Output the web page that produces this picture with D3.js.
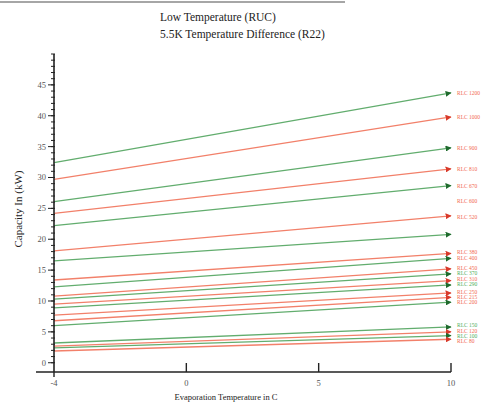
<!DOCTYPE html>
<html>
<head>
<meta charset="utf-8">
<script src="https://cdn.jsdelivr.net/npm/d3@7"></script>
<style>
  html, body { margin: 0; padding: 0; background: #fff; }
  svg { display: block; font-family: "Liberation Serif", "DejaVu Serif", serif; }
</style>
</head>
<body>
<svg id="chart" width="486" height="402"></svg>
<script>
// ── Data ─────────────────────────────────────────────────────────────────────

const xCats   = ["-4", "0", "5", "10"];
const yTicks  = [0, 5, 10, 15, 20, 25, 30, 35, 40, 45];

// capacity at -4 C and at 10 C for every line, top to bottom
const capStart = [32.4, 29.7, 26.1, 24.2, 22.2, 18.1, 16.5, 13.4, 12.3, 10.8, 10.3, 9.5, 8.9, 7.7, 6.8, 6.0, 3.2, 2.7, 2.4, 1.9];
const capEnd   = [43.7, 39.8, 34.8, 31.4, 28.7, 23.8, 20.8, 17.7, 16.9, 15.2, 14.4, 13.3, 12.6, 11.3, 10.6, 9.8, 5.8, 5.0, 4.4, 3.8];
const lineKind = ["g", "r", "g", "r", "g", "r", "g", "r", "g", "r", "g", "r", "g", "r", "r", "g", "g", "r", "g", "r"];

const labelText  = ["RLC 1200", "RLC 1000", "RLC 900", "RLC 810", "RLC 670", "RLC 600", "RLC 520",
                    "RLC 380", "RLC 400", "RLC 450", "RLC 370", "RLC 310", "RLC 290", "RLC 250",
                    "RLC 215", "RLC 200", "RLC 150", "RLC 120", "RLC 100", "RLC 80"];
const labelValue = [43.7, 39.8, 34.8, 31.4, 28.7, 26.2, 23.6, 17.9, 16.9, 15.3, 14.5, 13.5, 12.7, 11.4,
                    10.6, 9.8, 6.1, 5.2, 4.4, 3.6];
const labelKind  = ["r", "r", "r", "r", "r", "r", "r", "r", "r", "r", "g", "r", "g", "r", "r", "r", "g", "r", "g", "r"];

// ── Layout ───────────────────────────────────────────────────────────────────

const colors = {
  g: { line: "#62ad6e", head: "#1e6a2c", text: "#4fae5c" },
  r: { line: "#f2806a", head: "#d8392a", text: "#f26a52" }
};

const svg = d3.select("#chart");

const x = d3.scalePoint().domain(xCats).range([54, 451]);
const y = d3.scaleLinear().domain([-1.5, 50]).range([372, 54]);

// top rule
svg.append("line")
  .attr("x1", 0).attr("x2", 345).attr("y1", 2).attr("y2", 2)
  .attr("stroke", "#888").attr("stroke-width", 1.5);

// titles
svg.append("text").attr("x", 160).attr("y", 21)
  .attr("font-size", 11.5).attr("fill", "#222").text("Low Temperature (RUC)");
svg.append("text").attr("x", 160).attr("y", 38)
  .attr("font-size", 11.5).attr("fill", "#222").text("5.5K Temperature Difference (R22)");

// arrow markers
Object.entries(colors).forEach(([k, c]) => {
  svg.append("defs").append("marker")
    .attr("id", "arrow-" + k)
    .attr("viewBox", "0 0 10 10")
    .attr("refX", 9).attr("refY", 5)
    .attr("markerWidth", 6).attr("markerHeight", 6)
    .attr("markerUnits", "userSpaceOnUse")
    .attr("orient", "auto")
    .append("path").attr("d", "M0,0L10,5L0,10Z").attr("fill", c.head);
});

// lines
const lines = capStart.map((v, i) => ({ a: v, b: capEnd[i], k: lineKind[i] }));
svg.append("g").selectAll("line").data(lines).join("line")
  .attr("x1", x("-4")).attr("y1", d => y(d.a))
  .attr("x2", x("10")).attr("y2", d => y(d.b))
  .attr("stroke", d => colors[d.k].line)
  .attr("stroke-width", 1.3)
  .attr("marker-end", d => `url(#arrow-${d.k})`);

// labels
svg.append("g").selectAll("text").data(labelText).join("text")
  .attr("x", x("10") + 6)
  .attr("y", (d, i) => y(labelValue[i]) + 2)
  .attr("font-size", 5.5)
  .attr("fill", (d, i) => colors[labelKind[i]].text)
  .text(d => d);

// y axis
const yAxis = svg.append("g").attr("transform", "translate(54,0)");
yAxis.append("line").attr("y1", 54).attr("y2", 372).attr("stroke", "#222").attr("stroke-width", 1.6);
yAxis.selectAll(".minor").data(d3.range(0, 51)).join("line")
  .attr("x1", -3).attr("x2", 1)
  .attr("y1", d => y(d)).attr("y2", d => y(d))
  .attr("stroke", "#222").attr("stroke-width", 1);
yAxis.selectAll(".major").data(yTicks).join("line")
  .attr("x1", -6).attr("x2", 0)
  .attr("y1", d => y(d)).attr("y2", d => y(d))
  .attr("stroke", "#222").attr("stroke-width", 1);
yAxis.selectAll("text").data(yTicks).join("text")
  .attr("x", -8).attr("y", d => y(d) + 3)
  .attr("text-anchor", "end").attr("font-size", 8.5).attr("fill", "#555")
  .text(d => d);

// x axis
const xAxis = svg.append("g").attr("transform", "translate(0,372)");
xAxis.append("line").attr("x1", 36).attr("x2", 451).attr("stroke", "#222").attr("stroke-width", 1.6);
xAxis.selectAll(".tick").data(xCats).join("line")
  .attr("x1", d => x(d)).attr("x2", d => x(d))
  .attr("y1", 0).attr("y2", d => d === "-4" ? 5 : -9)
  .attr("stroke", "#222").attr("stroke-width", 1.4);
xAxis.selectAll("text").data(xCats).join("text")
  .attr("x", d => x(d)).attr("y", 14)
  .attr("text-anchor", "middle").attr("font-size", 8.5).attr("fill", "#555")
  .text(d => d);

// axis titles
svg.append("text")
  .attr("transform", "translate(22,209) rotate(-90)")
  .attr("text-anchor", "middle").attr("font-size", 11).attr("fill", "#222")
  .text("Capacity In (kW)");
svg.append("text")
  .attr("x", 226).attr("y", 400)
  .attr("text-anchor", "middle").attr("font-size", 8.5).attr("fill", "#222")
  .text("Evaporation Temperature in C");
</script>
</body>
</html>
